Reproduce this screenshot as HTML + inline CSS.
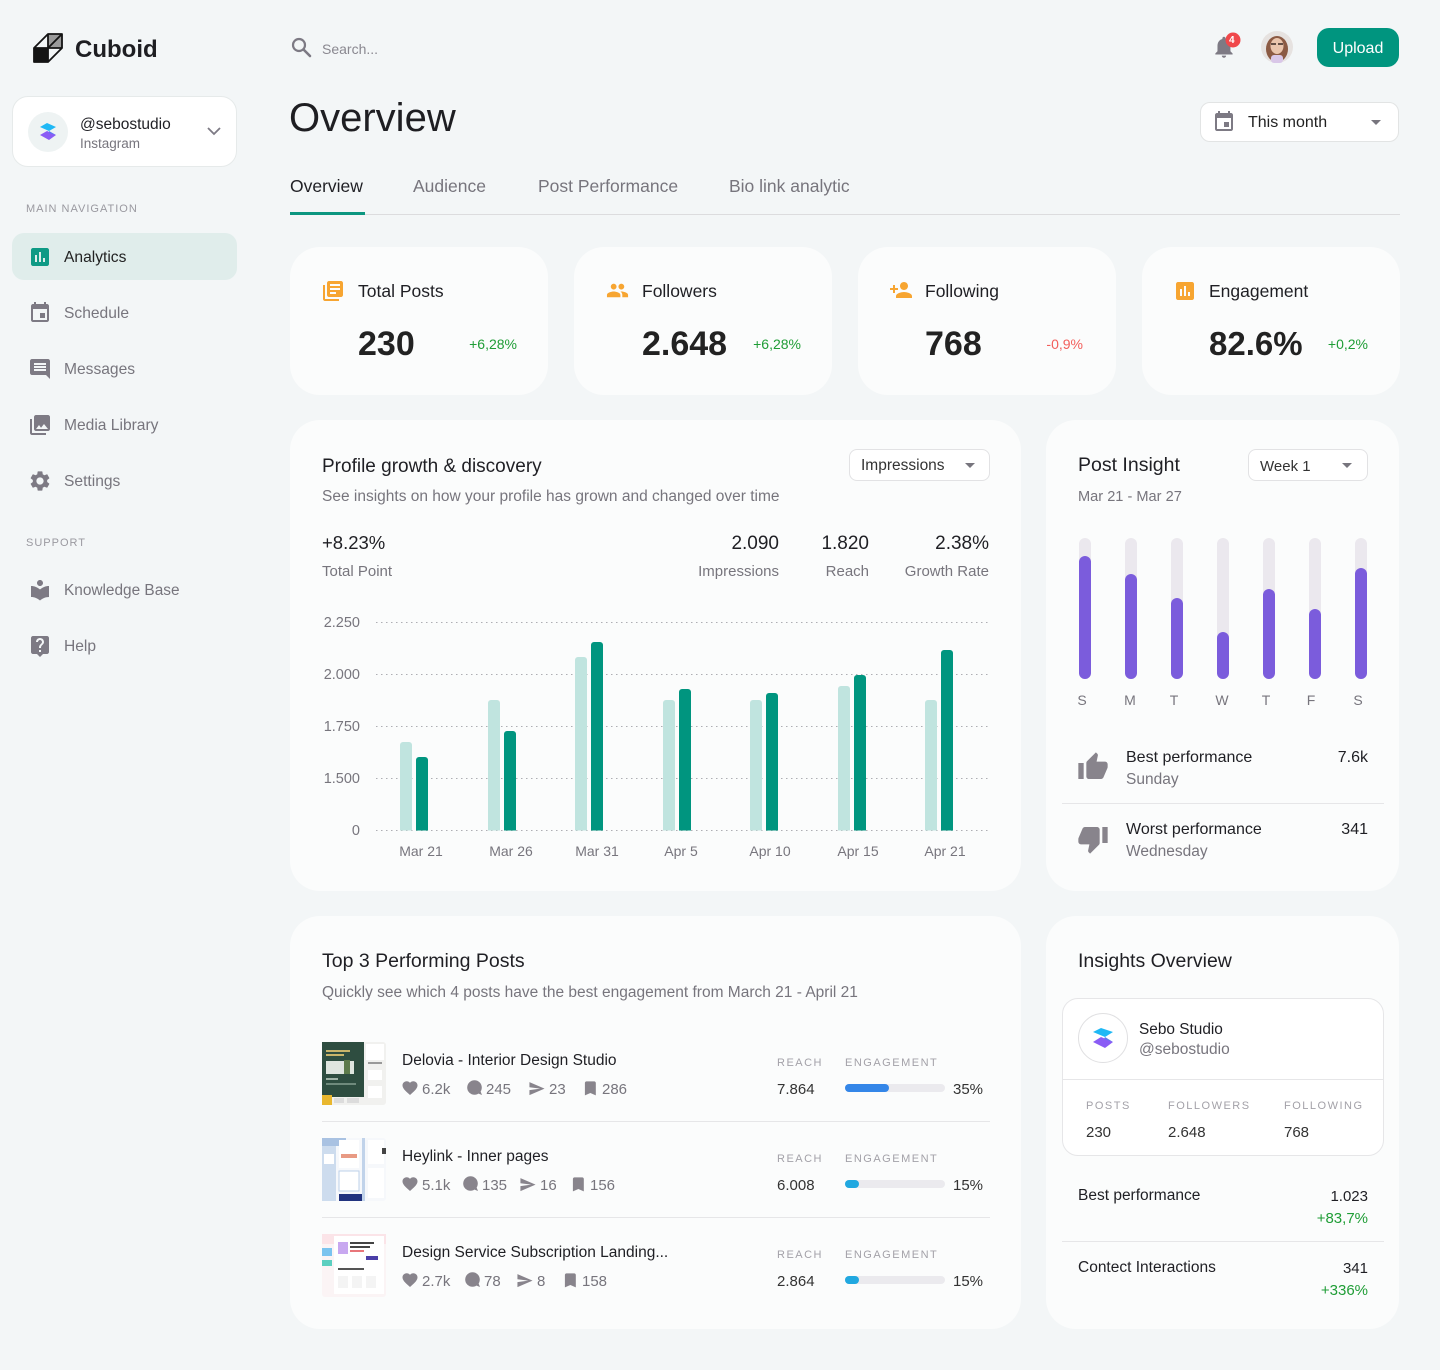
<!DOCTYPE html>
<html><head><meta charset="utf-8">
<style>
*{box-sizing:border-box}
body{margin:0;width:1440px;height:1370px;background:#f3f6f7;font-family:"Liberation Sans",sans-serif;position:relative;overflow:hidden;color:#1f1f24}
.t{position:absolute;white-space:nowrap;line-height:1;margin-top:1.5px}
.g{color:#77757d}
.l{color:#a3a1a8;font-size:11px;letter-spacing:1.5px}
.card{position:absolute;background:#fbfcfc;border-radius:30px}
.r{text-align:right}
.gr{color:#1f9d36}
</style></head><body>

<!-- cards / boxes -->
<div class="card" style="left:12px;top:96px;width:225px;height:71px;background:#fff;border:1px solid #e6eaea;border-radius:16px"></div>
<div style="position:absolute;left:12px;top:233px;width:225px;height:47px;background:#e0edeb;border-radius:12px"></div>
<div style="position:absolute;left:1317px;top:28px;width:82px;height:39px;background:#00957f;border-radius:12px"></div>
<div style="position:absolute;left:1200px;top:102px;width:199px;height:40px;background:#fff;border:1px solid #e2e4e4;border-radius:10px"></div>

<div class="card" style="left:290px;top:247px;width:258px;height:148px"></div>
<div class="card" style="left:574px;top:247px;width:258px;height:148px"></div>
<div class="card" style="left:858px;top:247px;width:258px;height:148px"></div>
<div class="card" style="left:1142px;top:247px;width:258px;height:148px"></div>

<div class="card" style="left:290px;top:420px;width:731px;height:471px"></div>
<div class="card" style="left:1046px;top:420px;width:353px;height:471px"></div>
<div class="card" style="left:290px;top:916px;width:731px;height:413px"></div>
<div class="card" style="left:1046px;top:916px;width:353px;height:413px"></div>

<div style="position:absolute;left:849px;top:449px;width:141px;height:32px;background:#fff;border:1px solid #e2e2e4;border-radius:8px"></div>
<div style="position:absolute;left:1248px;top:449px;width:120px;height:32px;background:#fff;border:1px solid #e2e2e4;border-radius:8px"></div>
<div style="position:absolute;left:1062px;top:998px;width:322px;height:158px;background:#fff;border:1px solid #e6e6e8;border-radius:16px"></div>

<svg style="position:absolute;left:0;top:0" width="1440" height="1370" viewBox="0 0 1440 1370">
<defs><clipPath id="cb"><rect x="0" y="0" width="1440" height="830.5"/></clipPath></defs>

<!-- logo -->
<g transform="translate(33,33)">
<rect x="15" y="1" width="14" height="14" fill="#9a9a9a"/>
<rect x="1" y="15" width="14" height="14" fill="#141414"/>
<path d="M1 15 L15 1 L29 1 L29 15 L15 29 L1 29 Z M15 1 L15 15 L1 15 M15 15 L29 1 M15 15 L15 29 M15 15 L29 15" fill="none" stroke="#141414" stroke-width="1.8" stroke-linejoin="round"/>
</g>

<!-- account avatar -->
<circle cx="48" cy="132" r="20" fill="#eef3f3"/>
<g transform="translate(38,122)">
<path d="M2 5 L9 1 L18 5 L11 9 Z" fill="#1fb8f5"/>
<path d="M2 13 L9 9 L18 13 L11 18 Z" fill="#8a5cf5"/>
<path d="M11 9 L18 13 L11 11 Z" fill="#5b79f0"/>
</g>
<path d="M208 128 L214 134 L220 128" fill="none" stroke="#7d7a84" stroke-width="1.8"/>

<!-- nav icons -->
<path transform="translate(28,245)" fill="#0f9a85" d="M19 3H5c-1.1 0-2 .9-2 2v14c0 1.1.9 2 2 2h14c1.1 0 2-.9 2-2V5c0-1.1-.9-2-2-2zM9 17H7v-7h2v7zm4 0h-2V7h2v10zm4 0h-2v-4h2v4z"/>
<path transform="translate(28,301)" fill="#7d7a84" d="M17 12h-5v5h5v-5zM16 1v2H8V1H6v2H5c-1.11 0-1.99.9-1.99 2L3 19c0 1.1.89 2 2 2h14c1.1 0 2-.9 2-2V5c0-1.1-.9-2-2-2h-1V1h-2zm3 18H5V8h14v11z"/>
<path transform="translate(28,357)" fill="#7d7a84" d="M21.99 4c0-1.1-.89-2-1.99-2H4c-1.1 0-2 .9-2 2v12c0 1.1.9 2 2 2h14l4 4-.01-18zM18 14H6v-2h12v2zm0-3H6V9h12v2zm0-3H6V6h12v2z"/>
<path transform="translate(28,413)" fill="#7d7a84" d="M22 16V4c0-1.1-.9-2-2-2H8c-1.1 0-2 .9-2 2v12c0 1.1.9 2 2 2h12c1.1 0 2-.9 2-2zm-11-4l2.03 2.71L16 11l4 5H8l3-4zM2 6v14c0 1.1.9 2 2 2h14v-2H4V6H2z"/>
<path transform="translate(28,469)" fill="#7d7a84" d="M19.14 12.94c.04-.3.06-.61.06-.94 0-.32-.02-.64-.07-.94l2.03-1.58c.18-.14.23-.41.12-.61l-1.92-3.32c-.12-.22-.37-.29-.59-.22l-2.39.96c-.5-.38-1.030-.7-1.62-.94l-.36-2.54c-.04-.24-.24-.41-.48-.41h-3.84c-.24 0-.43.17-.47.41l-.36 2.54c-.59.24-1.13.57-1.62.94l-2.39-.96c-.22-.08-.47 0-.59.22L2.74 8.87c-.12.21-.08.47.12.61l2.03 1.58c-.05.3-.09.63-.09.94s.02.64.07.94l-2.03 1.58c-.18.14-.23.41-.12.61l1.920 3.32c.12.22.37.29.59.22l2.39-.96c.5.38 1.03.7 1.62.94l.36 2.54c.05.24.24.41.48.41h3.84c.24 0 .44-.17.47-.41l.36-2.54c.59-.24 1.13-.56 1.62-.94l2.39.96c.22.08.47 0 .59-.22l1.92-3.32c.12-.22.07-.47-.12-.61l-2.01-1.58zM12 15.6c-1.98 0-3.6-1.62-3.6-3.6s1.62-3.6 3.6-3.6 3.6 1.62 3.6 3.6-1.62 3.6-3.6 3.6z"/>
<path transform="translate(28,578)" fill="#7d7a84" d="M12 11.55C9.64 9.35 6.48 8 3 8v11c3.48 0 6.64 1.35 9 3.55 2.36-2.19 5.52-3.55 9-3.550V8c-3.48 0-6.64 1.35-9 3.55zM12 8c1.66 0 3-1.34 3-3s-1.34-3-3-3-3 1.34-3 3 1.34 3 3 3z"/>
<path transform="translate(28,634)" fill="#7d7a84" d="M19 2H5c-1.11 0-2 .9-2 2v14c0 1.1.89 2 2 2h4l3 3 3-3h4c1.1 0 2-.9 2-2V4c0-1.1-.9-2-2-2zm-6 16h-2v-2h2v2zm2.07-7.75l-.9.92C13.45 11.9 13 12.5 13 14h-2v-.5c0-1.1.45-2.1 1.17-2.83l1.24-1.26c.37-.36.59-.86.59-1.41 0-1.1-.9-2-2-2s-2 .9-2 2H8c0-2.21 1.79-4 4-4s4 1.79 4 4c0 .88-.36 1.68-.93 2.25z"/>

<!-- header icons -->
<circle cx="299" cy="45" r="6" fill="none" stroke="#7d7a84" stroke-width="2.2"/>
<path d="M303.5 49.5 L310 56" stroke="#7d7a84" stroke-width="2.6" stroke-linecap="round"/>
<path transform="translate(1211,34) scale(1.08)" fill="#7d7a84" d="M12 22c1.1 0 2-.9 2-2h-4c0 1.1.89 2 2 2zm6-6v-5c0-3.07-1.64-5.64-4.5-6.32V4c0-.83-.67-1.5-1.5-1.5s-1.5.67-1.5 1.5v.68C7.630 5.36 6 7.92 6 11v5l-2 2v1h16v-1l-2-2z"/>
<circle cx="1233" cy="40" r="7.5" fill="#f0484b"/>
<circle cx="1277" cy="47" r="16" fill="#e6e2e0"/>
<ellipse cx="1277" cy="49" rx="11" ry="13" fill="#8b5a43"/>
<ellipse cx="1277" cy="46" rx="6.5" ry="8" fill="#eac5ad"/>
<path d="M1271 44 h5 M1278 44 h5" stroke="#3a2a25" stroke-width="1.6"/>
<rect x="1271" y="55" width="12" height="8" rx="3" fill="#d9c7e8"/>
<!-- calendar in dropdown -->
<path transform="translate(1212,110)" fill="#7d7a84" d="M17 12h-5v5h5v-5zM16 1v2H8V1H6v2H5c-1.11 0-1.99.9-1.99 2L3 19c0 1.1.89 2 2 2h14c1.1 0 2-.9 2-2V5c0-1.1-.9-2-2-2h-1V1h-2zm3 18H5V8h14v11z"/>
<path d="M1371 120 L1381 120 L1376 125 Z" fill="#77757d"/>

<!-- tabs -->
<rect x="290" y="214" width="1110" height="1" fill="#dcdcde"/>
<rect x="290" y="212" width="75" height="3" fill="#0c9680"/>

<!-- stat icons -->
<path transform="translate(321,279)" fill="#f7a531" d="M4 6H2v14c0 1.1.9 2 2 2h14v-2H4V6zm16-4H8c-1.1 0-2 .9-2 2v12c0 1.1.9 2 2 2h12c1.1 0 2-.9 2-2V4c0-1.1-.9-2-2-2zm-1 9H9V9h10v2zm-4 4H9v-2h6v2zm4-8H9V5h10v2z"/>
<path transform="translate(606,279) scale(0.96)" fill="#f7a531" d="M16 11c1.66 0 2.99-1.34 2.99-3S17.66 5 16 5c-1.66 0-3 1.34-3 3s1.34 3 3 3zm-8 0c1.66 0 2.99-1.34 2.99-3S9.66 5 8 5C6.34 5 5 6.34 5 8s1.34 3 3 3zm0 2c-2.33 0-7 1.17-7 3.5V19h14v-2.5c0-2.33-4.67-3.5-7-3.5zm8 0c-.29 0-.62.02-.97.05 1.16.84 1.97 1.970 1.97 3.45V19h6v-2.5c0-2.33-4.67-3.5-7-3.5z"/>
<path transform="translate(889,278)" fill="#f7a531" d="M15 12c2.21 0 4-1.79 4-4s-1.79-4-4-4-4 1.79-4 4 1.79 4 4 4zm-9-2V7H4v3H1v2h3v3h2v-3h3v-2H6zm9 4c-2.67 0-8 1.34-8 4v2h16v-2c0-2.66-5.33-4-8-4z"/>
<path transform="translate(1173,279)" fill="#f7a531" d="M19 3H5c-1.1 0-2 .9-2 2v14c0 1.1.9 2 2 2h14c1.1 0 2-.9 2-2V5c0-1.1-.9-2-2-2zM9 17H7v-7h2v7zm4 0h-2V7h2v10zm4 0h-2v-4h2v4z"/>

<!-- dropdown carets -->
<path d="M965 463 L975 463 L970 468 Z" fill="#77757d"/>
<path d="M1342 463 L1352 463 L1347 468 Z" fill="#77757d"/>

<!-- gridlines -->
<g stroke="#aeaeb3" stroke-width="1" stroke-dasharray="1.5 3.5">
<line x1="376" y1="622.5" x2="990" y2="622.5"/>
<line x1="376" y1="674.5" x2="990" y2="674.5"/>
<line x1="376" y1="726.5" x2="990" y2="726.5"/>
<line x1="376" y1="778.5" x2="990" y2="778.5"/>
<line x1="376" y1="830.5" x2="990" y2="830.5"/>
</g>
<g clip-path="url(#cb)">
<g fill="#c0e4df">
<rect x="400" y="742" width="12" height="95" rx="3"/>
<rect x="488" y="700" width="12" height="137" rx="3"/>
<rect x="575" y="657" width="12" height="180" rx="3"/>
<rect x="663" y="700" width="12" height="137" rx="3"/>
<rect x="750" y="700" width="12" height="137" rx="3"/>
<rect x="838" y="686" width="12" height="151" rx="3"/>
<rect x="925" y="700" width="12" height="137" rx="3"/>
</g>
<g fill="#00957f">
<rect x="416" y="757" width="12" height="80" rx="3"/>
<rect x="504" y="731" width="12" height="106" rx="3"/>
<rect x="591" y="642" width="12" height="195" rx="3"/>
<rect x="679" y="689" width="12" height="148" rx="3"/>
<rect x="766" y="693" width="12" height="144" rx="3"/>
<rect x="854" y="675" width="12" height="162" rx="3"/>
<rect x="941" y="650" width="12" height="187" rx="3"/>
</g>
</g>

<!-- post insight bars -->
<g fill="#ebe8ee">
<rect x="1079" y="538" width="12" height="141" rx="6"/>
<rect x="1125" y="538" width="12" height="141" rx="6"/>
<rect x="1171" y="538" width="12" height="141" rx="6"/>
<rect x="1217" y="538" width="12" height="141" rx="6"/>
<rect x="1263" y="538" width="12" height="141" rx="6"/>
<rect x="1309" y="538" width="12" height="141" rx="6"/>
<rect x="1355" y="538" width="12" height="141" rx="6"/>
</g>
<g fill="#7b5cdc">
<rect x="1079" y="556" width="12" height="123" rx="6"/>
<rect x="1125" y="574" width="12" height="105" rx="6"/>
<rect x="1171" y="598" width="12" height="81" rx="6"/>
<rect x="1217" y="632" width="12" height="47" rx="6"/>
<rect x="1263" y="589" width="12" height="90" rx="6"/>
<rect x="1309" y="609" width="12" height="70" rx="6"/>
<rect x="1355" y="568" width="12" height="111" rx="6"/>
</g>
<path transform="translate(1077,751) scale(1.333)" fill="#88848c" d="M1 21h4V9H1v12zm22-11c0-1.1-.9-2-2-2h-6.31l.95-4.57.03-.32c0-.41-.17-.79-.44-1.06L14.17 1 7.59 7.59C7.22 7.95 7 8.45 7 9v10c0 1.1.9 2 2 2h9c.83 0 1.54-.5 1.84-1.22l3.020-7.05c.09-.23.14-.47.14-.73v-2z"/>
<path transform="translate(1077,823) scale(1.333)" fill="#88848c" d="M15 3H6c-.83 0-1.54.5-1.84 1.22l-3.02 7.05c-.09.23-.14.47-.14.73v2c0 1.1.9 2 2 2h6.31l-.95 4.57-.03.32c0 .41.17.79.44 1.06L9.83 23l6.59-6.59c.36-.36.58-.86.58-1.41V5c0-1.1-.9-2-2-2zm4 0v12h4V3h-4z"/>
<rect x="1062" y="803" width="322" height="1" fill="#e6e6e8"/>

<!-- table dividers -->
<rect x="322" y="1121" width="668" height="1" fill="#e6e6e8"/>
<rect x="322" y="1217" width="668" height="1" fill="#e6e6e8"/>

<!-- thumbnails -->
<g transform="translate(322,1042)">
<rect width="64" height="63" rx="3" fill="#f1f1ef"/>
<rect width="42" height="55" fill="#2e4d40"/>
<rect x="4" y="8" width="24" height="2" fill="#c8b46a"/>
<rect x="4" y="12" width="18" height="2" fill="#c8b46a"/>
<rect x="4" y="19" width="28" height="13" fill="#dfe5df"/>
<rect x="22" y="18" width="6" height="14" fill="#5d7b4b"/>
<rect x="4" y="36" width="12" height="2" fill="#9fb3a7"/>
<rect x="4" y="41" width="30" height="2" fill="#6f8a7c"/>
<rect x="0" y="53" width="10" height="10" fill="#e9b72e"/>
<rect x="12" y="56" width="10" height="5" fill="#dcdcdc"/>
<rect x="25" y="56" width="12" height="5" fill="#dcdcdc"/>
<rect x="44" y="2" width="18" height="16" fill="#fff"/>
<rect x="46" y="20" width="14" height="2" fill="#999"/>
<rect x="46" y="28" width="14" height="10" fill="#fff"/>
<rect x="46" y="44" width="14" height="12" fill="#fff"/>
</g>
<g transform="translate(322,1138)">
<rect width="64" height="63" rx="3" fill="#f6f8fb"/>
<rect width="14" height="63" fill="#cddcee"/>
<rect x="0" y="0" width="24" height="8" fill="#a9c2e2"/>
<rect x="2" y="16" width="10" height="10" fill="#fff"/>
<rect x="17" y="2" width="20" height="28" fill="#fff"/>
<rect x="19" y="16" width="16" height="4" fill="#e89a84"/>
<rect x="17" y="33" width="20" height="20" fill="#fff" stroke="#bcd0ea"/>
<rect x="17" y="56" width="26" height="7" fill="#22337f"/>
<rect x="40" y="0" width="3" height="63" fill="#c1d3ea"/>
<rect x="46" y="2" width="16" height="24" fill="#fff"/>
<rect x="46" y="30" width="16" height="30" fill="#fff"/>
<rect x="60" y="10" width="4" height="6" fill="#444"/>
</g>
<g transform="translate(322,1234)">
<rect width="64" height="63" rx="3" fill="#fbf4f5"/>
<rect x="0" y="0" width="64" height="10" fill="#fbe4e8"/>
<rect x="12" y="2" width="50" height="58" fill="#fff"/>
<rect x="16" y="8" width="10" height="12" fill="#c8a8f0"/>
<rect x="28" y="8" width="24" height="2" fill="#444"/>
<rect x="28" y="12" width="20" height="2" fill="#444"/>
<rect x="28" y="16" width="14" height="2" fill="#e8767a"/>
<rect x="44" y="22" width="12" height="4" fill="#4b3fa8"/>
<rect x="0" y="14" width="10" height="8" fill="#7bc4ef"/>
<rect x="0" y="26" width="10" height="6" fill="#5ccfc0"/>
<rect x="16" y="34" width="26" height="2" fill="#555"/>
<rect x="16" y="42" width="10" height="12" fill="#f4f4f4"/>
<rect x="30" y="42" width="10" height="12" fill="#f4f4f4"/>
<rect x="44" y="42" width="10" height="12" fill="#f4f4f4"/>
</g>

<!-- stat icons rows -->
<g fill="#88848c">
<path transform="translate(401,1079) scale(0.75)" d="M12 21.35l-1.45-1.32C5.4 15.36 2 12.28 2 8.5 2 5.42 4.42 3 7.5 3c1.74 0 3.41.81 4.5 2.09C13.09 3.81 14.76 3 16.5 3 19.58 3 22 5.42 22 8.5c0 3.78-3.4 6.86-8.55 11.54L12 21.35z"/>
<path transform="translate(401,1175) scale(0.75)" d="M12 21.35l-1.45-1.32C5.4 15.36 2 12.28 2 8.5 2 5.42 4.42 3 7.5 3c1.74 0 3.41.81 4.5 2.09C13.09 3.81 14.76 3 16.5 3 19.58 3 22 5.42 22 8.5c0 3.78-3.4 6.86-8.55 11.54L12 21.35z"/>
<path transform="translate(401,1271) scale(0.75)" d="M12 21.35l-1.45-1.32C5.4 15.36 2 12.28 2 8.5 2 5.42 4.42 3 7.5 3c1.74 0 3.41.81 4.5 2.09C13.09 3.81 14.76 3 16.5 3 19.58 3 22 5.42 22 8.5c0 3.78-3.4 6.86-8.55 11.54L12 21.35z"/>
<circle cx="474.5" cy="1087.5" r="7.3"/><path d="M477 1093 L482 1095 L480 1090 Z"/>
<circle cx="470.5" cy="1183.5" r="7.3"/><path d="M473 1189 L478 1191 L476 1186 Z"/>
<circle cx="472.5" cy="1279.5" r="7.3"/><path d="M475 1285 L480 1287 L478 1282 Z"/>
<path transform="translate(528,1080) scale(0.72)" d="M2.01 21L23 12 2.01 3 2 10l15 2-15 2z"/>
<path transform="translate(519,1176) scale(0.72)" d="M2.01 21L23 12 2.01 3 2 10l15 2-15 2z"/>
<path transform="translate(516,1272) scale(0.72)" d="M2.01 21L23 12 2.01 3 2 10l15 2-15 2z"/>
<path transform="translate(581,1079) scale(0.78)" d="M17 3H7c-1.1 0-1.99.9-1.99 2L5 21l7-3 7 3V5c0-1.1-.9-2-2-2z"/>
<path transform="translate(569,1175) scale(0.78)" d="M17 3H7c-1.1 0-1.99.9-1.99 2L5 21l7-3 7 3V5c0-1.1-.9-2-2-2z"/>
<path transform="translate(561,1271) scale(0.78)" d="M17 3H7c-1.1 0-1.99.9-1.99 2L5 21l7-3 7 3V5c0-1.1-.9-2-2-2z"/>
</g>

<!-- progress -->
<g fill="#ebeaee">
<rect x="845" y="1084" width="100" height="8" rx="4"/>
<rect x="845" y="1180" width="100" height="8" rx="4"/>
<rect x="845" y="1276" width="100" height="8" rx="4"/>
</g>
<rect x="845" y="1084" width="44" height="8" rx="4" fill="#3486e8"/>
<rect x="845" y="1180" width="14" height="8" rx="4" fill="#21a8e0"/>
<rect x="845" y="1276" width="14" height="8" rx="4" fill="#21a8e0"/>

<!-- insights overview -->
<circle cx="1103" cy="1038" r="24.5" fill="#fff" stroke="#e0e0e2"/>
<g transform="translate(1091,1027)">
<path d="M2 5 L10 1 L22 5 L14 10 Z" fill="#1fb8f5"/>
<path d="M2 15 L10 10 L22 15 L14 21 Z" fill="#8a5cf5"/>
<path d="M14 10 L22 15 L13 12 Z" fill="#5b79f0"/>
</g>
<rect x="1062" y="1079" width="322" height="1" fill="#e6e6e8"/>
<rect x="1062" y="1241" width="322" height="1" fill="#e6e6e8"/>
</svg>

<!-- SIDEBAR TEXT -->
<div class="t" style="left:75px;top:36px;font-size:24px;font-weight:bold;color:#1e1e22">Cuboid</div>
<div class="t" style="left:80px;top:115px;font-size:15.5px">@sebostudio</div>
<div class="t g" style="left:80px;top:135px;font-size:13.5px">Instagram</div>
<div class="t" style="left:26px;top:202.6px;font-size:11px;letter-spacing:1px;color:#9a99a0">MAIN NAVIGATION</div>
<div class="t" style="left:64px;top:248.7px;font-size:15.6px;color:#222">Analytics</div>
<div class="t g" style="left:64px;top:304.7px;font-size:15.6px">Schedule</div>
<div class="t g" style="left:64px;top:360.7px;font-size:15.6px">Messages</div>
<div class="t g" style="left:64px;top:416.7px;font-size:15.6px">Media Library</div>
<div class="t g" style="left:64px;top:472.7px;font-size:15.6px">Settings</div>
<div class="t" style="left:26px;top:536.6px;font-size:11px;letter-spacing:1px;color:#9a99a0">SUPPORT</div>
<div class="t g" style="left:64px;top:581.8px;font-size:15.4px">Knowledge Base</div>
<div class="t g" style="left:64px;top:637.7px;font-size:15.6px">Help</div>

<!-- HEADER TEXT -->
<div class="t" style="left:322px;top:40.6px;font-size:14px;color:#8a8890">Search...</div>
<div class="t" style="left:1229px;top:34.5px;font-size:10px;font-weight:bold;color:#fff">4</div>
<div class="t" style="left:1317px;top:39.5px;width:82px;text-align:center;font-size:16px;color:#fff">Upload</div>
<div class="t" style="left:289px;top:96.8px;font-size:40px;color:#1e1e22">Overview</div>
<div class="t" style="left:1248px;top:113.5px;font-size:16px;color:#222">This month</div>
<div class="t" style="left:290px;top:176.7px;font-size:17.5px;color:#1f1f24">Overview</div>
<div class="t g" style="left:413px;top:176.7px;font-size:17.5px">Audience</div>
<div class="t g" style="left:538px;top:176.7px;font-size:17.5px">Post Performance</div>
<div class="t g" style="left:729px;top:176.7px;font-size:17.5px">Bio link analytic</div>

<!-- STAT CARDS -->
<div class="t" style="left:358px;top:281.7px;font-size:17.5px">Total Posts</div>
<div class="t" style="left:642px;top:281.7px;font-size:17.5px">Followers</div>
<div class="t" style="left:925px;top:281.7px;font-size:17.5px">Following</div>
<div class="t" style="left:1209px;top:281.7px;font-size:17.5px">Engagement</div>
<div class="t" style="left:358px;top:325.3px;font-size:34px;font-weight:bold;color:#222">230</div>
<div class="t" style="left:642px;top:325.3px;font-size:34px;font-weight:bold;color:#222">2.648</div>
<div class="t" style="left:925px;top:325.3px;font-size:34px;font-weight:bold;color:#222">768</div>
<div class="t" style="left:1209px;top:325.3px;font-size:33px;font-weight:bold;color:#222">82.6%</div>
<div class="t gr r" style="right:923px;top:335.1px;font-size:14px">+6,28%</div>
<div class="t gr r" style="right:639px;top:335.1px;font-size:14px">+6,28%</div>
<div class="t r" style="right:357px;top:335.1px;font-size:14px;color:#f25f5c">-0,9%</div>
<div class="t gr r" style="right:72px;top:335.1px;font-size:14px">+0,2%</div>

<!-- PROFILE GROWTH -->
<div class="t" style="left:322px;top:455px;font-size:19px">Profile growth &amp; discovery</div>
<div class="t" style="left:861px;top:456.8px;font-size:15.5px;color:#333">Impressions</div>
<div class="t g" style="left:322px;top:487.8px;font-size:15.5px">See insights on how your profile has grown and changed over time</div>
<div class="t" style="left:322px;top:532.9px;font-size:18.5px">+8.23%</div>
<div class="t g" style="left:322px;top:562px;font-size:15px">Total Point</div>
<div class="t r" style="right:661px;top:532.7px;font-size:19px">2.090</div>
<div class="t g r" style="right:661px;top:562px;font-size:15px">Impressions</div>
<div class="t r" style="right:571px;top:532.7px;font-size:19px">1.820</div>
<div class="t g r" style="right:571px;top:562px;font-size:15px">Reach</div>
<div class="t r" style="right:451px;top:532.7px;font-size:19px">2.38%</div>
<div class="t g r" style="right:451px;top:562px;font-size:15px">Growth Rate</div>

<div class="t g r" style="right:1080px;top:614.9px;font-size:14.5px">2.250</div>
<div class="t g r" style="right:1080px;top:666.9px;font-size:14.5px">2.000</div>
<div class="t g r" style="right:1080px;top:718.9px;font-size:14.5px">1.750</div>
<div class="t g r" style="right:1080px;top:770.9px;font-size:14.5px">1.500</div>
<div class="t g r" style="right:1080px;top:822.9px;font-size:14.5px">0</div>

<div class="t g" style="left:371px;width:100px;text-align:center;top:842.6px;font-size:14px">Mar 21</div>
<div class="t g" style="left:461px;width:100px;text-align:center;top:842.6px;font-size:14px">Mar 26</div>
<div class="t g" style="left:547px;width:100px;text-align:center;top:842.6px;font-size:14px">Mar 31</div>
<div class="t g" style="left:631px;width:100px;text-align:center;top:842.6px;font-size:14px">Apr 5</div>
<div class="t g" style="left:720px;width:100px;text-align:center;top:842.6px;font-size:14px">Apr 10</div>
<div class="t g" style="left:808px;width:100px;text-align:center;top:842.6px;font-size:14px">Apr 15</div>
<div class="t g" style="left:895px;width:100px;text-align:center;top:842.6px;font-size:14px">Apr 21</div>

<!-- POST INSIGHT -->
<div class="t" style="left:1078px;top:454.7px;font-size:19.5px">Post Insight</div>
<div class="t" style="left:1260px;top:457px;font-size:15px;color:#333">Week 1</div>
<div class="t g" style="left:1078px;top:488px;font-size:14.6px">Mar 21 - Mar 27</div>
<div class="t g" style="left:1062px;width:40px;text-align:center;top:691.1px;font-size:14px">S</div>
<div class="t g" style="left:1110px;width:40px;text-align:center;top:691.1px;font-size:14px">M</div>
<div class="t g" style="left:1154px;width:40px;text-align:center;top:691.1px;font-size:14px">T</div>
<div class="t g" style="left:1202px;width:40px;text-align:center;top:691.1px;font-size:14px">W</div>
<div class="t g" style="left:1246px;width:40px;text-align:center;top:691.1px;font-size:14px">T</div>
<div class="t g" style="left:1291px;width:40px;text-align:center;top:691.1px;font-size:14px">F</div>
<div class="t g" style="left:1338px;width:40px;text-align:center;top:691.1px;font-size:14px">S</div>
<div class="t" style="left:1126px;top:748.5px;font-size:16px">Best performance</div>
<div class="t g" style="left:1126px;top:770.8px;font-size:15.5px">Sunday</div>
<div class="t r" style="right:72px;top:748.5px;font-size:16px">7.6k</div>
<div class="t" style="left:1126px;top:820.5px;font-size:16px">Worst performance</div>
<div class="t g" style="left:1126px;top:842.8px;font-size:15.5px">Wednesday</div>
<div class="t r" style="right:72px;top:820.5px;font-size:16px">341</div>

<!-- TOP 3 -->
<div class="t" style="left:322px;top:950.7px;font-size:19.5px">Top 3 Performing Posts</div>
<div class="t g" style="left:322px;top:983.8px;font-size:15.5px">Quickly see which 4 posts have the best engagement from March 21 - April 21</div>

<div class="t" style="left:402px;top:1051.8px;font-size:15.5px">Delovia - Interior Design Studio</div>
<div class="t g" style="left:422px;top:1080.6px;font-size:15px">6.2k</div>
<div class="t g" style="left:486px;top:1080.6px;font-size:15px">245</div>
<div class="t g" style="left:549px;top:1080.6px;font-size:15px">23</div>
<div class="t g" style="left:602px;top:1080.6px;font-size:15px">286</div>
<div class="t l" style="left:777px;top:1056.6px">REACH</div>
<div class="t l" style="left:845px;top:1056.6px">ENGAGEMENT</div>
<div class="t" style="left:777px;top:1080.6px;font-size:15px;color:#333">7.864</div>
<div class="t" style="left:953px;top:1080.6px;font-size:15px;color:#333">35%</div>

<div class="t" style="left:402px;top:1147.8px;font-size:15.5px">Heylink - Inner pages</div>
<div class="t g" style="left:422px;top:1176.6px;font-size:15px">5.1k</div>
<div class="t g" style="left:482px;top:1176.6px;font-size:15px">135</div>
<div class="t g" style="left:540px;top:1176.6px;font-size:15px">16</div>
<div class="t g" style="left:590px;top:1176.6px;font-size:15px">156</div>
<div class="t l" style="left:777px;top:1152.6px">REACH</div>
<div class="t l" style="left:845px;top:1152.6px">ENGAGEMENT</div>
<div class="t" style="left:777px;top:1176.6px;font-size:15px;color:#333">6.008</div>
<div class="t" style="left:953px;top:1176.6px;font-size:15px;color:#333">15%</div>

<div class="t" style="left:402px;top:1243.8px;font-size:15.5px">Design Service Subscription Landing...</div>
<div class="t g" style="left:422px;top:1272.6px;font-size:15px">2.7k</div>
<div class="t g" style="left:484px;top:1272.6px;font-size:15px">78</div>
<div class="t g" style="left:537px;top:1272.6px;font-size:15px">8</div>
<div class="t g" style="left:582px;top:1272.6px;font-size:15px">158</div>
<div class="t l" style="left:777px;top:1248.6px">REACH</div>
<div class="t l" style="left:845px;top:1248.6px">ENGAGEMENT</div>
<div class="t" style="left:777px;top:1272.6px;font-size:15px;color:#333">2.864</div>
<div class="t" style="left:953px;top:1272.6px;font-size:15px;color:#333">15%</div>

<!-- INSIGHTS OVERVIEW -->
<div class="t" style="left:1078px;top:950.7px;font-size:19.5px">Insights Overview</div>
<div class="t" style="left:1139px;top:1020px;font-size:15.4px">Sebo Studio</div>
<div class="t g" style="left:1139px;top:1040.8px;font-size:15.5px">@sebostudio</div>
<div class="t l" style="left:1086px;top:1099.6px">POSTS</div>
<div class="t l" style="left:1168px;top:1099.6px">FOLLOWERS</div>
<div class="t l" style="left:1284px;top:1099.6px">FOLLOWING</div>
<div class="t" style="left:1086px;top:1123.6px;font-size:15px;color:#333">230</div>
<div class="t" style="left:1168px;top:1123.6px;font-size:15px;color:#333">2.648</div>
<div class="t" style="left:1284px;top:1123.6px;font-size:15px;color:#333">768</div>
<div class="t" style="left:1078px;top:1186.8px;font-size:15.5px">Best performance</div>
<div class="t r" style="right:72px;top:1187.5px;font-size:15px">1.023</div>
<div class="t gr r" style="right:72px;top:1209.5px;font-size:15px">+83,7%</div>
<div class="t" style="left:1078px;top:1258.8px;font-size:15.5px">Contect Interactions</div>
<div class="t r" style="right:72px;top:1259.5px;font-size:15px">341</div>
<div class="t gr r" style="right:72px;top:1281.5px;font-size:15px">+336%</div>

</body></html>
